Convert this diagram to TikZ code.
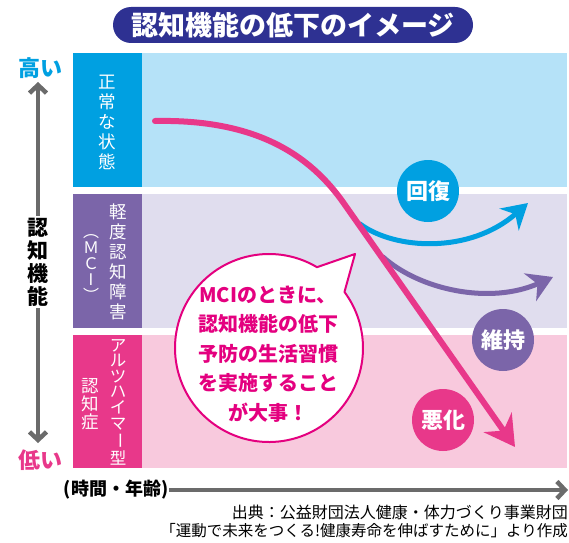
\documentclass[tikz,border=0pt]{standalone}
\usepackage{fontspec}
\usepackage{graphicx}
\setmainfont{Noto Sans CJK JP}
\usetikzlibrary{positioning, arrows.meta, calc}

\definecolor{titlenavy}{HTML}{2E3192}
\definecolor{normalblue}{HTML}{00A0E1}
\definecolor{normalfill}{HTML}{B5E2F8}
\definecolor{mcipurple}{HTML}{7B65A9}
\definecolor{mcifill}{HTML}{E0DDEE}
\definecolor{adpink}{HTML}{E8388A}
\definecolor{adfill}{HTML}{F8C9DD}
\definecolor{bubblepink}{HTML}{E4007F}
\definecolor{axisgray}{HTML}{6B6B6B}

\newcommand{\fsz}[2]{\fontsize{#1}{#2}\selectfont}
\newcommand{\vbar}{\rotatebox[origin=c]{-90}{ー}}

\begin{document}
\begin{tikzpicture}[
  x=1pt, y=1pt,
  band/.style={rectangle, anchor=north west, minimum width=494pt, minimum height=134pt, inner sep=0pt},
  tag/.style={rectangle, anchor=north west, minimum width=69pt, minimum height=134pt, inner sep=0pt},
  vtext/.style={align=center, text=white, inner sep=0pt},
  badge/.style={circle, minimum size=62pt, inner sep=0pt, text=white, font=\fsz{22}{24}\bfseries},
  trend/.style={line width=5pt, line cap=round},
  axis/.style={axisgray, line width=4.5pt, -{Straight Barb[length=8pt, width=17pt]}}
]
\useasboundingbox (0,0) rectangle (569,542);

% Title
\node[rectangle, rounded corners=18pt, fill=titlenavy, minimum width=360pt, minimum height=36pt,
  text=white, font=\fsz{27}{29}\bfseries] (title) at (293,517) {認知機能の低下のイメージ};

% Bands
\node[band, fill=normalfill] (normal) at (73,489) {};
\node[band, fill=mcifill] (mci) at (73,348) {};
\node[band, fill=adfill, minimum height=133pt] (ad) at (73,207) {};
\node[tag, fill=normalblue] (normaltag) at (normal.north west) {};
\node[tag, fill=mcipurple] (mcitag) at (mci.north west) {};
\node[tag, fill=adpink, minimum height=133pt] (adtag) at (ad.north west) {};

% Band labels
\node[vtext, font=\fsz{17.5}{20}] (normaltext) at (107,420) {正\\常\\な\\状\\態};
\node[vtext, font=\fsz{17.5}{20}] (mcitext) at (118,280) {軽\\度\\認\\知\\障\\害};
\node[vtext, font=\fsz{16}{16}] (mciabbr) at (91,274) {︵\\Ｍ\\Ｃ\\I\\︶};
\node[vtext, font=\fsz{16.5}{15.6}] (adtext) at (118,140) {ア\\ル\\ツ\\ハ\\イ\\マ\\\vbar\\型};
\node[vtext, font=\fsz{17.5}{18}] (adname) at (90,138) {認\\知\\症};

% Axes
\node[font=\fsz{21}{23}\bfseries, align=center, inner sep=2pt] (axislabel) at (38,280) {認\\知\\機\\能};
\coordinate (hightip) at (38,460);
\coordinate (lowtip) at (38,99);
\draw[axis] (axislabel) -- (hightip);
\draw[axis] (axislabel) -- (lowtip);
\node[text=normalblue, font=\fsz{22}{24}\bfseries] (high) at (40,474) {高い};
\node[text=adpink, font=\fsz{22}{24}\bfseries] (low) at (40,82) {低い};

\node[font=\fsz{18}{20}\bfseries, inner sep=1pt] (timelabel) at (116,52) {(時間・年齢)};
\coordinate (timetip) at (568,52);
\draw[axis] (timelabel) -- (timetip);

% Trends
\coordinate (recoverfrom) at (360,318);
\coordinate (recovertip) at (528,339);
\draw[trend, normalblue, -{Stealth[length=25pt, width=29pt, inset=8pt]}]
  (recoverfrom) .. controls (395,292) and (470,288) .. (recovertip);

\coordinate (keepfrom) at (383,285);
\coordinate (keeptip) at (553,265);
\draw[trend, mcipurple, -{Stealth[length=25pt, width=30pt, inset=8pt]}]
  (keepfrom) .. controls (420,252) and (490,237) .. (keeptip);

\coordinate (start) at (155,421);
\coordinate (turn) at (345,337);
\coordinate (worsetip) at (515,95);
\draw[trend, adpink, line width=6pt, -{Stealth[length=30pt, width=34pt, inset=10pt]}]
  (start) .. controls (255,423) and (310,388) .. (turn) -- (worsetip);

\node[badge, fill=normalblue] (recover) at (428,351) {回復};
\node[badge, fill=mcipurple] (keep) at (503,202) {維持};
\node[badge, fill=adpink] (worsen) at (443,122) {悪化};

% Speech bubble
\coordinate (bubblecentre) at (269,194);
\coordinate (bubbletip) at (355,288);
\draw[bubblepink, line width=2pt, fill=white, line join=round]
  (bubbletip) -- ($(bubblecentre)+(59.3:94pt)$) arc[start angle=59.3, end angle=396.6, radius=94pt] -- cycle;
\node[text=bubblepink, font=\fsz{20}{29.5}\bfseries, align=center] (message) at (268,188)
  {MCIのときに、\\認知機能の低下\\予防の生活習慣\\を実施すること\\が大事！};

% Source
\node[anchor=east, font=\fsz{16}{18}, inner sep=0pt] (source) at (568,30) {出典：公益財団法人健康・体力づくり事業財団};
\node[anchor=east, font=\fsz{15.5}{18}, inner sep=0pt] (book) at (568,11) {「運動で未来をつくる!健康寿命を伸ばすために」より作成};

\end{tikzpicture}
\end{document}
